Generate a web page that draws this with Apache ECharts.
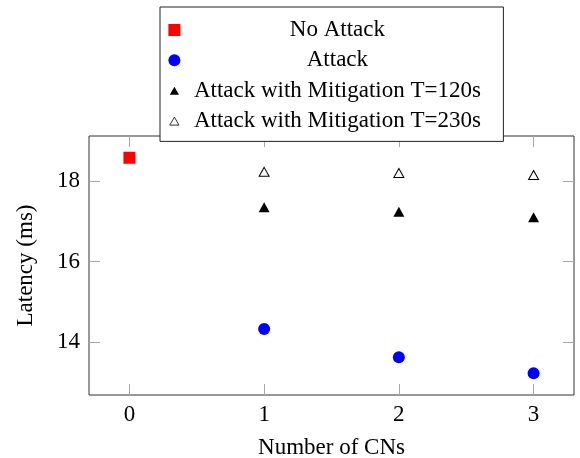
<!DOCTYPE html>
<html>
<head>
<meta charset="utf-8">
<script src="https://cdn.jsdelivr.net/npm/echarts@6/dist/echarts.min.js"></script>
<style>html,body{margin:0;padding:0;background:#fff}#c{width:580px;height:458px}</style>
</head>
<body>
<div id="c"></div>
<script>
// Data
const seriesNames = ['No Attack', 'Attack', 'Attack with Mitigation T=120s', 'Attack with Mitigation T=230s'];
const xNoAttack = [0];
const noAttack = [18.58];
const xCNs = [1, 2, 3];
const attack = [14.33, 13.63, 13.23];
const mitigation120 = [17.35, 17.24, 17.10];
const mitigation230 = [18.23, 18.20, 18.15];
const xTicks = [0, 1, 2, 3];
const yTicks = [14, 16, 18];

const FONT = 'Liberation Serif';
const FS = 23;
const pair = (xs, ys) => xs.map((x, i) => [x, ys[i]]);

const chart = echarts.init(document.getElementById('c'), null, {renderer: 'canvas'});
const tickStyle = {show: true, inside: true, length: 11, lineStyle: {color: '#a8a8a8', width: 1}};
const noLine = {show: false, onZero: false};
const xBase = {type: 'value', min: -0.3, max: 3.3, splitLine: {show: false}, axisLine: noLine};
const yBase = {type: 'value', min: 12.69, max: 19.12, splitLine: {show: false}, axisLine: noLine};
const triIcon = 'path://M0,0 M12,12 M6,2.2 L10.6,10.2 L1.4,10.2 Z';

chart.setOption({
  animation: false,
  backgroundColor: '#fff',
  textStyle: {fontFamily: FONT},
  grid: {left: 89, right: 6, top: 136, bottom: 63, containLabel: false, outerBoundsMode: 'none',
    show: true, borderColor: '#333', borderWidth: 1, backgroundColor: 'transparent'},
  legend: {
    orient: 'vertical', left: 160, top: 7,
    padding: [11.5, 14, 9, 8],
    itemWidth: 12, itemHeight: 12, itemGap: 7.3,
    backgroundColor: '#fff', borderColor: '#222', borderWidth: 1,
    data: [
      {name: seriesNames[0]},
      {name: seriesNames[1]},
      {name: seriesNames[2], icon: triIcon},
      {name: seriesNames[3], icon: triIcon, itemStyle: {borderWidth: 0.8}}
    ],
    formatter: n => '{t|' + n + '}',
    textStyle: {fontFamily: FONT, fontSize: FS, color: '#000',
      rich: {t: {width: 304, align: 'center', fontFamily: FONT, fontSize: FS, color: '#000', lineHeight: 22}}},
    z: 10
  },
  xAxis: [
    Object.assign({}, xBase, {
      position: 'bottom',
      name: 'Number of CNs', nameLocation: 'middle', nameGap: 41,
      nameTextStyle: {fontFamily: FONT, fontSize: FS, color: '#000'},
      axisTick: Object.assign({customValues: xTicks}, tickStyle),
      axisLabel: {customValues: xTicks, fontFamily: FONT, fontSize: FS, color: '#000', margin: 8}
    }),
    Object.assign({}, xBase, {
      position: 'top',
      axisTick: Object.assign({customValues: xTicks}, tickStyle),
      axisLabel: {show: false, customValues: xTicks}
    })
  ],
  yAxis: [
    Object.assign({}, yBase, {
      position: 'left',
      name: 'Latency (ms)', nameLocation: 'middle', nameGap: 52,
      nameTextStyle: {fontFamily: FONT, fontSize: FS, color: '#000'},
      axisTick: Object.assign({customValues: yTicks}, tickStyle),
      axisLabel: {customValues: yTicks, fontFamily: FONT, fontSize: FS, color: '#000', margin: 9}
    }),
    Object.assign({}, yBase, {
      position: 'right',
      axisTick: Object.assign({customValues: yTicks}, tickStyle),
      axisLabel: {show: false, customValues: yTicks}
    })
  ],
  series: [
    {name: seriesNames[0], type: 'scatter', symbol: 'rect', symbolSize: 12,
      itemStyle: {color: '#ff0000', opacity: 1}, data: pair(xNoAttack, noAttack)},
    {name: seriesNames[1], type: 'scatter', symbol: 'circle', symbolSize: 12,
      itemStyle: {color: '#0000ff', opacity: 1}, data: pair(xCNs, attack)},
    {name: seriesNames[2], type: 'scatter', symbol: 'triangle', symbolSize: [11, 10],
      itemStyle: {color: '#000', opacity: 1}, data: pair(xCNs, mitigation120)},
    {name: seriesNames[3], type: 'scatter', symbol: 'triangle', symbolSize: [10, 9],
      itemStyle: {color: '#fff', borderColor: '#000', borderWidth: 1, opacity: 1}, data: pair(xCNs, mitigation230)}
  ]
});
</script>
</body>
</html>
